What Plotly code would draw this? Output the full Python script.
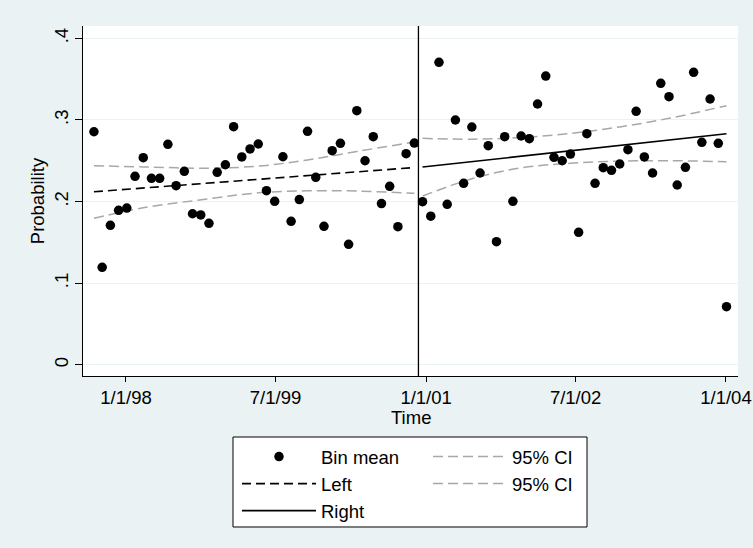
import plotly.graph_objects as go

# ---------------- data ----------------
left_dates = [
    "1997-09-06", "1997-10-06", "1997-11-05", "1997-12-05", "1998-01-04",
    "1998-02-03", "1998-03-05", "1998-04-04", "1998-05-04", "1998-06-03",
    "1998-07-03", "1998-08-02", "1998-09-01", "1998-10-01", "1998-10-31",
    "1998-11-30", "1998-12-30", "1999-01-29", "1999-02-28", "1999-03-30",
    "1999-04-29", "1999-05-29", "1999-06-28", "1999-07-28", "1999-08-27",
    "1999-09-26", "1999-10-26", "1999-11-25", "1999-12-25", "2000-01-24",
    "2000-02-23", "2000-03-24", "2000-04-23", "2000-05-23", "2000-06-22",
    "2000-07-22", "2000-08-21", "2000-09-20", "2000-10-20", "2000-11-19",
]
left_means = [
    0.2856, 0.1196, 0.1710, 0.1894, 0.1922, 0.2310, 0.2538, 0.2286, 0.2286, 0.2702,
    0.2195, 0.2372, 0.1852, 0.1837, 0.1735, 0.2359, 0.2452, 0.2918, 0.2547, 0.2645,
    0.2706, 0.2134, 0.2004, 0.2550, 0.1759, 0.2026, 0.2861, 0.2298, 0.1698, 0.2624,
    0.2714, 0.1478, 0.3114, 0.2501, 0.2795, 0.1977, 0.2188, 0.1693, 0.2587, 0.2718,
]
right_dates = [
    "2000-12-19", "2001-01-18", "2001-02-17", "2001-03-19", "2001-04-18",
    "2001-05-18", "2001-06-17", "2001-07-17", "2001-08-16", "2001-09-15",
    "2001-10-15", "2001-11-14", "2001-12-14", "2002-01-13", "2002-02-12",
    "2002-03-14", "2002-04-13", "2002-05-13", "2002-06-12", "2002-07-12",
    "2002-08-11", "2002-09-10", "2002-10-10", "2002-11-09", "2002-12-09",
    "2003-01-08", "2003-02-07", "2003-03-09", "2003-04-08", "2003-05-08",
    "2003-06-07", "2003-07-07", "2003-08-06", "2003-09-05", "2003-10-05",
    "2003-11-04", "2003-12-04", "2004-01-03",
]
right_means = [
    0.1999, 0.1822, 0.3706, 0.1968, 0.3000, 0.2225, 0.2914, 0.2351, 0.2685, 0.1510,
    0.2795, 0.2004, 0.2804, 0.2771, 0.3196, 0.3538, 0.2543, 0.2501, 0.2583, 0.1625,
    0.2832, 0.2225, 0.2416, 0.2384, 0.2461, 0.2636, 0.3106, 0.2547, 0.2351, 0.3449,
    0.3285, 0.2204, 0.2421, 0.3584, 0.2727, 0.3257, 0.2714, 0.0714,
]

left_fit_dates = ["1997-09-06", "2000-11-19"]
left_fit = [0.2121, 0.2418]
right_fit_dates = ["2000-12-19", "2004-01-03"]
right_fit = [0.2424, 0.2832]

left_ci_dates = ["1997-09-06", "1998-03-05", "1998-10-31", "1999-04-29",
                 "1999-10-26", "2000-04-23", "2000-11-19"]
left_ci_upper = [0.2440, 0.2425, 0.2410, 0.2435, 0.2510, 0.2615, 0.2730]
left_ci_lower = [0.1796, 0.1925, 0.2035, 0.2108, 0.2133, 0.2130, 0.2102]

right_ci_dates = ["2000-12-19", "2001-06-17", "2001-12-14", "2002-06-12",
                  "2002-12-09", "2003-06-07", "2004-01-03"]
right_ci_upper = [0.2775, 0.2765, 0.2785, 0.2835, 0.2915, 0.3020, 0.3175]
right_ci_lower = [0.2069, 0.2280, 0.2415, 0.2470, 0.2497, 0.2502, 0.2489]

cutoff_date = "2000-12-04"

x_tickvals = ["1998-01-01", "1999-07-01", "2001-01-01", "2002-07-01", "2004-01-01"]
x_ticktext = ["1/1/98", "7/1/99", "1/1/01", "7/1/02", "1/1/04"]
y_tickvals = [0, 0.1, 0.2, 0.3, 0.4]
y_ticktext = ["0", ".1", ".2", ".3", ".4"]

# ---------------- style ----------------
BG = "#EAF2F3"
FONT = "Liberation Sans, Arial, sans-serif"
FS = 18.5
GRAY = "#A8A8A8"
CI_DASH = "10px,5px"

fig = go.Figure()

# CI curves (drawn first, beneath)
fig.add_trace(go.Scatter(x=left_ci_dates, y=left_ci_upper, mode="lines",
                         line=dict(color=GRAY, width=1.5, dash=CI_DASH, shape="spline"),
                         name="95% CI", legend="legend2"))
fig.add_trace(go.Scatter(x=left_ci_dates, y=left_ci_lower, mode="lines",
                         line=dict(color=GRAY, width=1.5, dash=CI_DASH, shape="spline"),
                         name="95% CI", legend="legend2"))
fig.add_trace(go.Scatter(x=right_ci_dates, y=right_ci_upper, mode="lines",
                         line=dict(color=GRAY, width=1.5, dash=CI_DASH, shape="spline"),
                         showlegend=False))
fig.add_trace(go.Scatter(x=right_ci_dates, y=right_ci_lower, mode="lines",
                         line=dict(color=GRAY, width=1.5, dash=CI_DASH, shape="spline"),
                         showlegend=False))

# fitted lines
fig.add_trace(go.Scatter(x=left_fit_dates, y=left_fit, mode="lines",
                         line=dict(color="black", width=1.6, dash="9px,5px"),
                         name="Left", legend="legend", legendrank=2))
fig.add_trace(go.Scatter(x=right_fit_dates, y=right_fit, mode="lines",
                         line=dict(color="black", width=1.6),
                         name="Right", legend="legend", legendrank=3))

# bin means
fig.add_trace(go.Scatter(x=left_dates + right_dates, y=left_means + right_means,
                         mode="markers",
                         marker=dict(color="black", size=9.5, line=dict(width=0)),
                         name="Bin mean", legend="legend", legendrank=1))

# cutoff line
fig.add_shape(type="line", xref="x", yref="paper", x0=cutoff_date, x1=cutoff_date,
              y0=0, y1=1, line=dict(color="black", width=1.3))

# legend frame (paper coordinates)
fig.add_shape(type="rect", xref="paper", yref="paper",
              x0=0.2290, x1=0.7695, y0=-0.4314, y1=-0.1743,
              line=dict(color="black", width=1), fillcolor="white", layer="below")

# x-axis title
fig.add_annotation(text="Time", xref="paper", yref="paper",
                   x=(410.5 - 83) / 655, y=(376 - 417.5) / 350,
                   xanchor="center", yanchor="middle", showarrow=False,
                   font=dict(family=FONT, size=FS, color="black"))

legend_common = dict(
    font=dict(family=FONT, size=FS, color="black"),
    bgcolor="rgba(0,0,0,0)", borderwidth=0, itemwidth=74,
    orientation="v", xanchor="left", yanchor="top",
    traceorder="normal", itemclick=False, itemdoubleclick=False,
)

fig.update_layout(
    width=753, height=548,
    margin=dict(l=83, r=15, t=26, b=172, autoexpand=False),
    paper_bgcolor=BG, plot_bgcolor="white",
    font=dict(family=FONT, size=FS, color="black"),
    showlegend=True,
    legend=dict(x=(237 - 83) / 655, y=(376 - 438) / 350, **legend_common),
    legend2=dict(x=(428 - 83) / 655, y=(376 - 438) / 350, **legend_common),
    xaxis=dict(
        type="date", range=["1997-07-28", "2004-02-14"],
        tickvals=x_tickvals, ticktext=x_ticktext,
        ticks="outside", ticklen=5, tickcolor="black", tickwidth=1,
        showline=True, linecolor="black", linewidth=1,
        showgrid=False, zeroline=False,
        tickfont=dict(family=FONT, size=FS, color="black"),
    ),
    yaxis=dict(
        range=[-0.0135, 0.4151],
        tickvals=y_tickvals, ticktext=y_ticktext, tickangle=-90,
        ticks="outside", ticklen=7, tickcolor="black", tickwidth=1,
        showline=True, linecolor="black", linewidth=1,
        showgrid=True, gridcolor=BG, gridwidth=1.2, zeroline=False,
        tickfont=dict(family=FONT, size=FS, color="black"),
        title=dict(text="Probability", font=dict(family=FONT, size=FS, color="black"), standoff=1),
    ),
)

fig.write_html("out.html")
